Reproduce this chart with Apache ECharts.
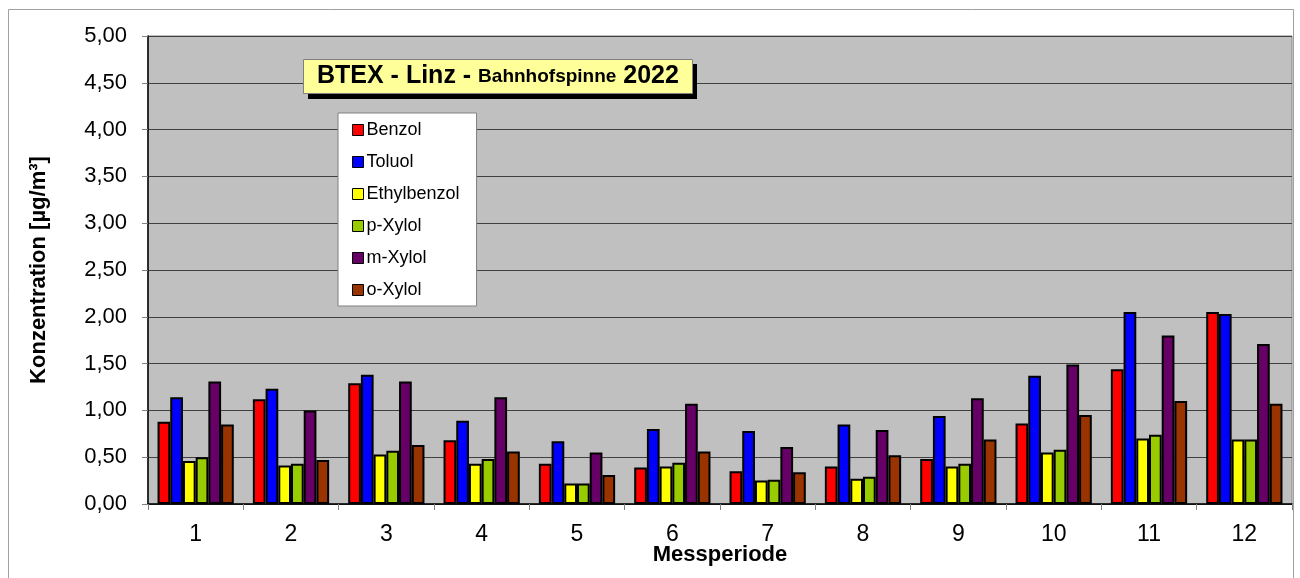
<!DOCTYPE html>
<html>
<head>
<meta charset="utf-8">
<script src="https://cdn.jsdelivr.net/npm/echarts@6/dist/echarts.min.js"></script>
<style>
  html, body { margin: 0; padding: 0; background: #fff; }
</style>
</head>
<body>
<div id="chart" style="width: 1300px; height: 578px;"></div>
<script>
// Messperioden 1-12
var perioden = ['1', '2', '3', '4', '5', '6', '7', '8', '9', '10', '11', '12'];

// Werte in µg/m³
var benzol      = [0.88, 1.12, 1.29, 0.68, 0.43, 0.39, 0.35, 0.40, 0.48, 0.86, 1.44, 2.05];
var toluol      = [1.14, 1.23, 1.38, 0.89, 0.67, 0.80, 0.78, 0.85, 0.94, 1.37, 2.05, 2.03];
var ethylbenzol = [0.46, 0.41, 0.53, 0.43, 0.22, 0.40, 0.25, 0.27, 0.40, 0.55, 0.70, 0.69];
var pXylol      = [0.50, 0.43, 0.57, 0.48, 0.22, 0.44, 0.26, 0.29, 0.43, 0.58, 0.74, 0.69];
var mXylol      = [1.31, 1.00, 1.31, 1.14, 0.55, 1.07, 0.61, 0.79, 1.13, 1.49, 1.80, 1.71];
var oXylol      = [0.85, 0.47, 0.63, 0.56, 0.31, 0.56, 0.34, 0.52, 0.69, 0.95, 1.10, 1.07];

var yTicks = [0, 0.5, 1, 1.5, 2, 2.5, 3, 3.5, 4, 4.5, 5];

var font = 'Liberation Sans, Arial, sans-serif';

var myChart = echarts.init(document.getElementById('chart'));

function bar(name, data, color) {
  return {
    name: name,
    type: 'bar',
    data: data,
    barGap: '0%',
    barCategoryGap: '20%',
    itemStyle: {
      color: color,
      borderColor: '#000',
      borderWidth: 2
    }
  };
}

var option = {
  animation: false,
  textStyle: { fontFamily: font },
  graphic: [{
    // Rahmen um das ganze Diagramm
    type: 'rect',
    shape: { x: 8.5, y: 9.5, width: 1285, height: 600 },
    style: { fill: 'none', stroke: '#a0a0a0', lineWidth: 1 },
    z: -10
  }, {
    // Schatten hinter dem Titel
    type: 'rect',
    shape: { x: 308, y: 64, width: 389, height: 35 },
    style: { fill: '#000' },
    z: 5
  }],
  title: {
    text: '{a|BTEX - Linz - }{b|Bahnhofspinne}{a| 2022}',
    left: 303,
    top: 59,
    padding: [5, 14, 5, 14],
    backgroundColor: '#FFFF99',
    borderColor: '#808080',
    borderWidth: 1,
    z: 10,
    textStyle: {
      rich: {
        a: { fontFamily: font, fontSize: 25, fontWeight: 'bold', color: '#000', lineHeight: 25 },
        b: { fontFamily: font, fontSize: 19, fontWeight: 'bold', color: '#000', lineHeight: 25 }
      }
    }
  },
  legend: {
    orient: 'vertical',
    left: 338,
    top: 113,
    padding: [8, 17, 7, 14],
    itemGap: 14,
    itemWidth: 11,
    itemHeight: 11,
    backgroundColor: '#fff',
    borderColor: '#808080',
    borderWidth: 1,
    icon: 'rect',
    itemStyle: { borderColor: '#000', borderWidth: 1 },
    textStyle: { fontFamily: font, fontSize: 18, color: '#000', padding: [0, 0, 0, -2] },
    data: ['Benzol', 'Toluol', 'Ethylbenzol', 'p-Xylol', 'm-Xylol', 'o-Xylol']
  },
  grid: {
    left: 148,
    right: 8,
    top: 36,
    bottom: 74,
    show: true,
    backgroundColor: '#C0C0C0',
    borderColor: '#808080',
    borderWidth: 1
  },
  xAxis: {
    type: 'category',
    data: perioden,
    name: 'Messperiode',
    nameLocation: 'middle',
    nameGap: 40,
    nameMoveOverlap: false,
    nameTextStyle: { fontFamily: font, fontSize: 22, fontWeight: 'bold', color: '#000' },
    axisLine: { lineStyle: { color: '#000', width: 1.5 } },
    axisTick: { show: true, length: 6, lineStyle: { color: '#808080' } },
    axisLabel: { fontFamily: font, fontSize: 23, color: '#000', margin: 19 }
  },
  yAxis: {
    type: 'value',
    min: 0,
    max: 5,
    interval: 0.5,
    name: 'Konzentration [µg/m³]',
    nameLocation: 'middle',
    nameGap: 98,
    nameMoveOverlap: false,
    nameRotate: 90,
    nameTextStyle: { fontFamily: font, fontSize: 22, fontWeight: 'bold', color: '#000' },
    axisLine: { show: true, lineStyle: { color: '#000', width: 1.5 } },
    axisTick: { show: true, length: 6, lineStyle: { color: '#808080' } },
    axisLabel: {
      fontFamily: font,
      fontSize: 22,
      color: '#000',
      margin: 21,
      formatter: function (v) {
        return yTicks.indexOf(v) >= 0 ? v.toFixed(2).replace('.', ',') : '';
      }
    },
    splitLine: { show: true, lineStyle: { color: '#404040', width: 1 } }
  },
  series: [
    bar('Benzol', benzol, '#FF0000'),
    bar('Toluol', toluol, '#0000FF'),
    bar('Ethylbenzol', ethylbenzol, '#FFFF00'),
    bar('p-Xylol', pXylol, '#99CC00'),
    bar('m-Xylol', mXylol, '#660066'),
    bar('o-Xylol', oXylol, '#993300')
  ]
};

myChart.setOption(option);
</script>
</body>
</html>
